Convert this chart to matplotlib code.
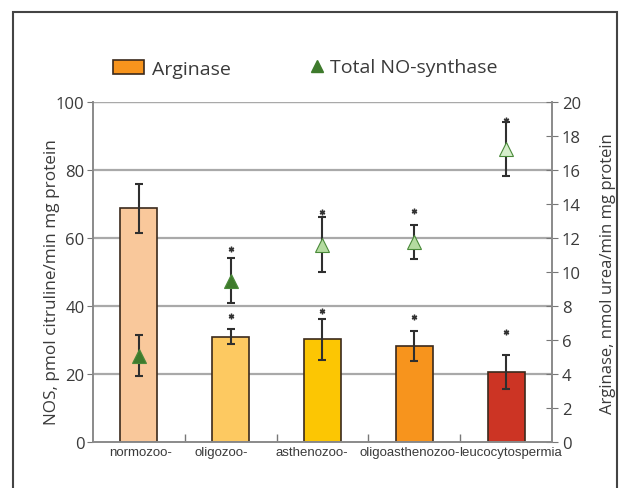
import numpy as np
import matplotlib
matplotlib.use("Agg")
import matplotlib.pyplot as plt
from matplotlib.patches import Patch, Rectangle
from matplotlib.lines import Line2D

groups = ["normozoo-", "oligozoo-", "asthenozoo-", "oligoasthenozoo-", "leucocytospermia"]

# arginase, nmol urea/min mg protein (right axis)
arginase = [13.75, 6.2, 6.05, 5.65, 4.1]
arginase_err = [1.45, 0.45, 1.2, 0.9, 1.0]
arginase_star = [np.nan, 7.4, 7.7, 7.35, 6.45]

# total NO-synthase, pmol citruline/min mg protein (left axis)
nos = [25.4, 47.5, 58.0, 58.8, 86.3]
nos_err = [6.0, 6.6, 8.1, 5.0, 7.9]
nos_star = [np.nan, 56.8, 67.7, 68.0, 94.8]

bar_colors = ["#f9c89b", "#fdc961", "#fcc603", "#f7941d", "#cc3424"]
tri_colors = ["#3e7a2c", "#3e7a2c", "#b4dba0", "#b4dba0", "#d6eecb"]

plt.rcParams["font.family"] = ["Open Sans", "DejaVu Sans"]
text_col = "#3a3a3a"
grid_col = "#a9a9a9"

fig = plt.figure(figsize=(6.19, 4.89), dpi=100)
fig.patches.append(Rectangle((13 / 619, -0.05), 604 / 619, 1.05 - 13 / 489,
                             transform=fig.transFigure, fill=False,
                             edgecolor="#444444", lw=1.5))

ax2 = fig.add_axes([0.150, 0.094, 0.742, 0.695])
ax = ax2.twinx()
# NOS axis on the left, drawn over the bars
ax.yaxis.tick_left()
ax.yaxis.set_label_position("left")
ax2.yaxis.tick_right()
ax2.yaxis.set_label_position("right")
ax.set_zorder(ax2.get_zorder() + 1)
ax.patch.set_visible(False)

x = np.arange(len(groups))

for y in np.arange(4, 21, 4):
    ax2.axhline(y, color=grid_col, lw=1.6, zorder=0)

ax2.bar(x, arginase, width=0.40, color=bar_colors, edgecolor="#3b2a1c",
        linewidth=1.2, zorder=2)
ax2.errorbar(x, arginase, yerr=arginase_err, fmt="none", ecolor="#2f2f2f",
             elinewidth=1.5, capsize=3, capthick=1.5, zorder=3)
ax2.plot(x, arginase_star, ls="none", marker=(6, 2, 0), ms=4, color="#333333",
         mew=1, zorder=3)

ax.errorbar(x, nos, yerr=nos_err, fmt="none", ecolor="#2f2f2f",
            elinewidth=1.5, capsize=3, capthick=1.5, zorder=3)
for xi, v, c in zip(x, nos, tri_colors):
    ax.plot(xi, v, marker="^", ms=10, color=c, mec="#4a8a3a", mew=0.8, zorder=4)
ax.plot(x, nos_star, ls="none", marker=(6, 2, 0), ms=4, color="#333333",
        mew=1, zorder=4)

ax.set_xlim(-0.5, len(groups) - 0.5)
ax.set_ylim(0, 100)
ax2.set_ylim(0, 20)
ax.set_yticks(np.arange(0, 101, 20))
ax2.set_yticks(np.arange(0, 21, 2))

# category names, nudged sideways like in the original so the long ones fit
ax2.set_xticks(x, [""] * len(groups))
for xi, g, dx in zip(x, groups, [2, -9, -11, -5, 4]):
    ax2.annotate(g, xy=(xi, 0), xycoords=("data", "axes fraction"),
                 xytext=(dx, -4), textcoords="offset pixels",
                 ha="center", va="top", fontsize=9.5, color=text_col,
                 family=["Liberation Sans", "DejaVu Sans"])
ax2.set_xticks(np.arange(0.5, len(groups) - 1), minor=True)
ax2.tick_params(axis="x", which="major", length=0)
ax2.tick_params(axis="x", which="minor", direction="in", length=6,
                color="#777777", width=1)
ax.tick_params(axis="x", length=0, labelbottom=False)

ax.tick_params(axis="y", direction="out", length=4, color="#777777",
               labelsize=12, labelcolor=text_col, pad=2)
ax2.tick_params(axis="y", direction="inout", length=8, color="#777777",
                labelsize=12, labelcolor=text_col, pad=3)

for a in (ax, ax2):
    a.spines["top"].set_visible(False)
    for s in ("left", "right", "bottom"):
        a.spines[s].set_color("#8a8a8a")
        a.spines[s].set_linewidth(1.2)
ax2.axhline(20, color=grid_col, lw=1.6, zorder=0)

ax.set_ylabel("NOS, pmol citruline/min mg protein", fontsize=12.3,
              color=text_col)
ax.yaxis.set_label_coords(-0.072, 0.475)
ax2.set_ylabel("Arginase, nmol urea/min mg protein", fontsize=12,
               color=text_col)
ax2.yaxis.set_label_coords(1.105, 0.498)

leg_kw = dict(loc="center left", frameon=False, fontsize=14,
              handleheight=0.7, labelcolor=text_col, borderpad=0,
              borderaxespad=0)
fig.legend([Patch(facecolor="#f7941d", edgecolor="#3b2a1c", lw=1.2)],
           ["Arginase"], bbox_to_anchor=(113 / 619, 0.857),
           handlelength=1.6, handletextpad=0.4, **leg_kw)
fig.legend([Line2D([], [], ls="none", marker="^", ms=9, color="#3e7a2c")],
           ["Total NO-synthase"], bbox_to_anchor=(309 / 619, 0.860),
           handlelength=0.8, handletextpad=0.3, **leg_kw)

fig.savefig("out.png", dpi=100)
